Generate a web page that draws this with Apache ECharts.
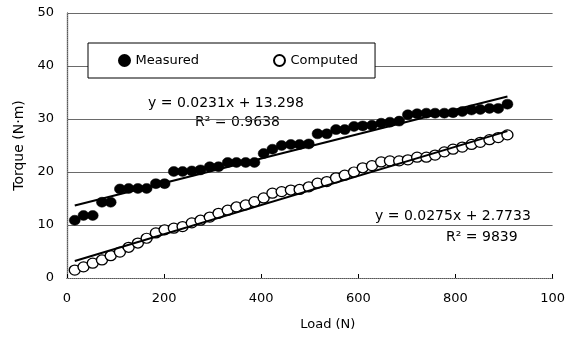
<!DOCTYPE html>
<html>
<head>
<meta charset="utf-8">
<script src="https://cdn.jsdelivr.net/npm/echarts@6/dist/echarts.min.js"></script>
<style>
  html, body { margin: 0; padding: 0; background: #fff; }
  #chart { width: 568px; height: 338px; }
</style>
</head>
<body>
<div id="chart"></div>
<script>
// load (N) for each sample
const loads = [16, 34, 53, 72, 90, 109, 127, 146, 164, 183, 201, 220, 238, 257, 275, 294, 312, 331, 349, 368,
  386, 405, 423, 442, 461, 479, 498, 516, 535, 554, 572, 591, 609, 628, 647, 665, 684, 702, 721, 740,
  758, 777, 795, 814, 833, 851, 870, 888, 907]
const measured = [10.9, 11.8, 11.8, 14.3, 14.3, 16.8, 16.9, 16.9, 16.9, 17.8, 17.8, 20.1, 20.1, 20.2, 20.4, 21.0, 21.0, 21.8, 21.8, 21.8,
  21.8, 23.5, 24.3, 25.0, 25.2, 25.2, 25.3, 27.2, 27.2, 28.0, 28.0, 28.6, 28.7, 28.8, 29.2, 29.4, 29.6, 30.8, 31.0, 31.1,
  31.1, 31.1, 31.2, 31.4, 31.7, 31.8, 32.0, 32.0, 32.8]
const computed = [1.5, 2.1, 2.8, 3.4, 4.2, 4.9, 5.8, 6.6, 7.5, 8.5, 9.1, 9.4, 9.7, 10.4, 10.9, 11.5, 12.2, 12.8, 13.4, 13.8,
  14.4, 15.1, 16.0, 16.3, 16.6, 16.7, 17.2, 17.9, 18.2, 18.9, 19.4, 20.0, 20.8, 21.2, 21.9, 22.1, 22.1, 22.3, 22.8, 22.8,
  23.2, 23.8, 24.3, 24.7, 25.2, 25.6, 26.1, 26.5, 27.0]
// linear fits shown on the chart
const fitMeasured = { slope: 0.0231, icept: 13.298 }
const fitComputed = { slope: 0.0275, icept: 2.7733 }
const xTickLabels = { 0: '0', 200: '200', 400: '400', 600: '600', 800: '800', 1000: '100' }

const font = '"DejaVu Sans", "Liberation Sans", sans-serif'

let pair = (xs, ys) => xs.map((x, i) => [x, ys[i]])
let fitLine = (f) => {
  let x0 = loads[0], x1 = loads[loads.length - 1]
  return [[x0, f.slope * x0 + f.icept], [x1, f.slope * x1 + f.icept]]
}

let myChart = echarts.init(document.getElementById('chart'))

let option = {
  animation: false,
  backgroundColor: '#fff',
  grid: { left: 67, right: 13, top: 13, bottom: 60 },
  legend: {
    left: 88, top: 43,
    padding: [11, 17, 11, 30],
    itemGap: 74,
    itemWidth: 12, itemHeight: 11,
    backgroundColor: '#fff',
    borderColor: '#000', borderWidth: 1,
    data: [
      { name: 'Measured', icon: 'circle' },
      { name: 'Computed', icon: 'circle' }
    ],
    textStyle: { fontFamily: font, fontSize: 13, color: '#000' }
  },
  xAxis: [{
    type: 'value', min: 0, max: 1000, interval: 200,
    name: 'Load (N)', nameLocation: 'middle', nameGap: 40,
    nameTextStyle: { fontFamily: font, fontSize: 13, color: '#000', padding: [0, 0, 0, 36] },
    axisLine: { lineStyle: { color: '#000', width: 1.2 } },
    axisTick: { inside: true, length: 4, lineStyle: { color: '#000' } },
    axisLabel: { fontFamily: font, fontSize: 13, color: '#000', margin: 14,
      formatter: (v) => xTickLabels[v] },
    splitLine: { show: false }
  }, {
    type: 'value', min: 0, max: 1000, position: 'top',
    axisLine: { lineStyle: { color: '#888', type: 'dotted' } },
    axisTick: { show: false }, axisLabel: { show: false }, splitLine: { show: false }
  }],
  yAxis: [{
    type: 'value', min: 0, max: 50, interval: 10,
    name: 'Torque (N·m)', nameLocation: 'middle', nameGap: 40,
    nameTextStyle: { fontFamily: font, fontSize: 14, color: '#000' },
    axisLine: { show: true, lineStyle: { color: '#000', width: 1.2 } },
    axisTick: { show: false },
    axisLabel: { fontFamily: font, fontSize: 13, color: '#000', margin: 13 },
    splitLine: { lineStyle: { color: '#6a6a6a', width: 1 } }
  }, {
    type: 'value', min: 0, max: 50, position: 'right',
    axisLine: { show: true, lineStyle: { color: '#888', type: 'dotted' } },
    axisTick: { show: false }, axisLabel: { show: false }, splitLine: { show: false }
  }],
  graphic: [
    { type: 'text', left: 148, top: 96,
      style: { text: 'y = 0.0231x + 13.298', font: '14px ' + font, fill: '#000' } },
    { type: 'text', left: 195, top: 115,
      style: { text: 'R² = 0.9638', font: '14px ' + font, fill: '#000' } },
    { type: 'text', left: 375, top: 209,
      style: { text: 'y = 0.0275x + 2.7733', font: '14px ' + font, fill: '#000' } },
    { type: 'text', left: 446, top: 230,
      style: { text: 'R² = 9839', font: '14px ' + font, fill: '#000' } }
  ],
  series: [
    {
      name: 'Measured', type: 'scatter',
      symbol: 'circle', symbolSize: [11, 10],
      itemStyle: { color: '#000', borderColor: '#000', borderWidth: 0.5, opacity: 1 },
      data: pair(loads, measured), z: 3
    },
    {
      name: 'Computed', type: 'scatter',
      symbol: 'circle', symbolSize: [11, 10],
      itemStyle: { color: '#fff', borderColor: '#000', borderWidth: 1.3, opacity: 1 },
      data: pair(loads, computed), z: 3
    },
    {
      name: 'fitM', type: 'line', showSymbol: false, silent: true,
      lineStyle: { color: '#000', width: 2 },
      data: fitLine(fitMeasured), z: 4
    },
    {
      name: 'fitC', type: 'line', showSymbol: false, silent: true,
      lineStyle: { color: '#000', width: 2 },
      data: fitLine(fitComputed), z: 4
    }
  ]
}

myChart.setOption(option)
</script>
</body>
</html>
